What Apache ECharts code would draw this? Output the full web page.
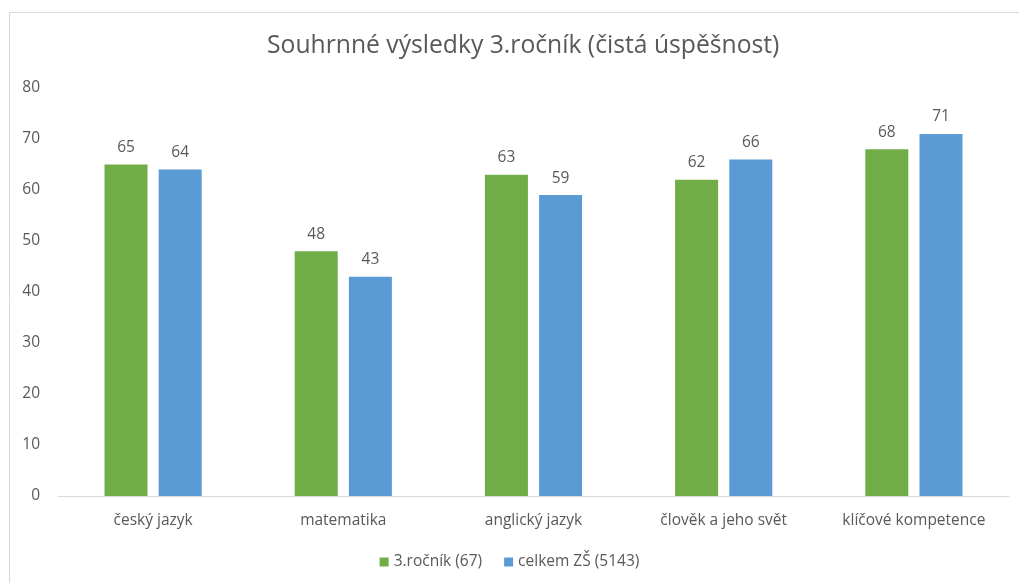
<!DOCTYPE html>
<html>
<head>
<meta charset="utf-8">
<script src="https://cdn.jsdelivr.net/npm/echarts@6/dist/echarts.min.js"></script>
<style>html,body{margin:0;padding:0;background:#fff}#c{width:1019px;height:583px}</style>
</head>
<body>
<div id="c"></div>
<script>
const categories = ['český jazyk', 'matematika', 'anglický jazyk', 'člověk a jeho svět', 'klíčové kompetence'];
const seriesNames = ['3.ročník (67)', 'celkem ZŠ (5143)'];
const grade3 = [65, 48, 63, 62, 68];
const schoolTotal = [64, 43, 59, 66, 71];
const yTicks = { min: 0, max: 80, interval: 10 };

const font = '"Open Sans", "Noto Sans", sans-serif';
const txt = '#595959';
const chart = echarts.init(document.getElementById('c'));
const lbl = { show: true, position: 'top', distance: 9, color: txt, fontSize: 15.5, fontFamily: font };
chart.setOption({
  animation: false,
  title: {
    text: 'Souhrnné výsledky 3.ročník (čistá úspěšnost)',
    left: 262, top: 28,
    textStyle: { color: txt, fontSize: 24.7, fontWeight: 'normal', fontFamily: font }
  },
  graphic: [{
    type: 'rect', shape: { x: 9.5, y: 12.5, width: 1040, height: 620 },
    style: { fill: 'none', stroke: '#d9d9d9', lineWidth: 1 }, silent: true
  }],
  legend: {
    bottom: 8, left: 'center', itemWidth: 9, itemHeight: 9, itemGap: 22,
    icon: 'rect',
    textStyle: { color: txt, fontSize: 15.5, fontFamily: font },
    data: seriesNames
  },
  grid: { left: 58, right: 10, top: 88, bottom: 87, containLabel: false },
  xAxis: {
    type: 'category', data: categories,
    axisLine: { lineStyle: { color: '#d9d9d9', width: 1 } },
    axisTick: { show: false },
    axisLabel: { color: txt, fontSize: 15.5, fontFamily: font, margin: 17, interval: 0 }
  },
  yAxis: {
    type: 'value', min: yTicks.min, max: yTicks.max, interval: yTicks.interval,
    splitLine: { show: false },
    axisLine: { show: false }, axisTick: { show: false },
    axisLabel: { color: txt, fontSize: 15.5, fontFamily: font, margin: 18 }
  },
  series: [
    { name: seriesNames[0], type: 'bar', data: grade3, barWidth: 43, barGap: '26%',
      itemStyle: { color: '#70AD47' }, label: lbl },
    { name: seriesNames[1], type: 'bar', data: schoolTotal, barWidth: 43,
      itemStyle: { color: '#5B9BD5' }, label: lbl }
  ]
});
</script>
</body>
</html>
